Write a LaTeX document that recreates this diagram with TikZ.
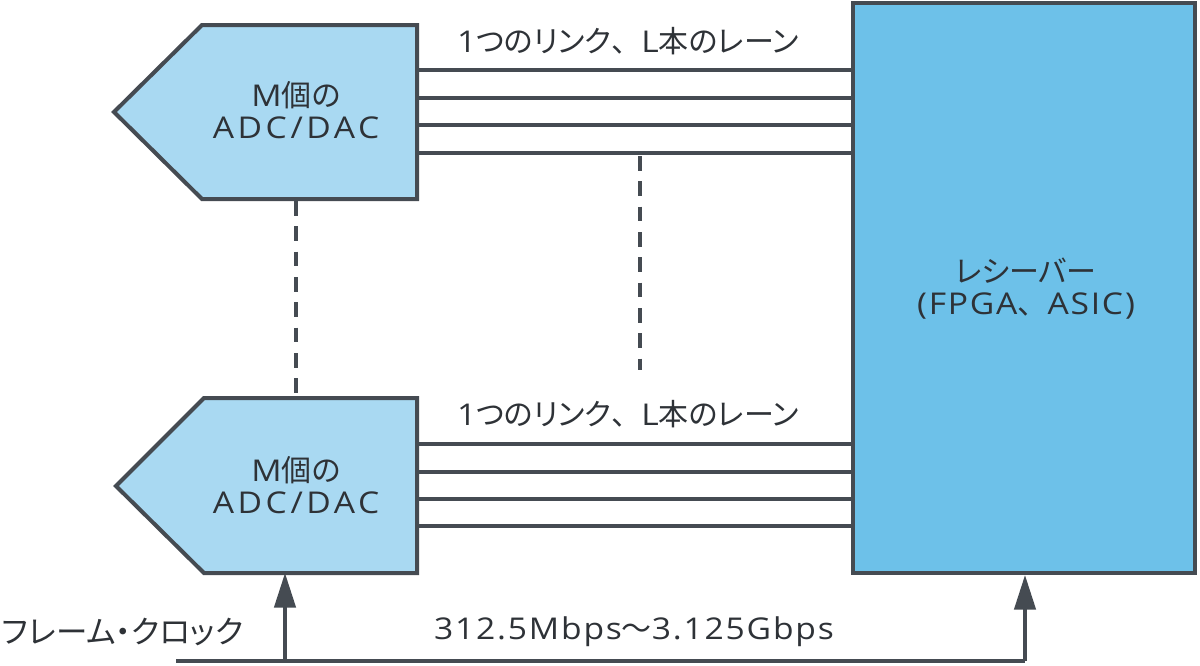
\documentclass[tikz,border=0pt]{standalone}
\usepackage{fontspec}
\setmainfont[RawFeature=+palt]{Noto Sans CJK JP}
\newfontfamily\jpfull{Noto Sans CJK JP}
\newfontfamily\latfont[FakeStretch=1.12,LetterSpace=6]{Open Sans}
\newfontfamily\latwide[FakeStretch=1.12,LetterSpace=12]{Open Sans}
\newcommand\latn[1]{{\latfont #1}}
\newcommand\latw[1]{{\latwide #1}}
\newcommand\jcomma{{\jpfull 、}}
\usetikzlibrary{arrows.meta}
\definecolor{ln}{HTML}{454B52}
\definecolor{tx}{HTML}{2E3237}
\definecolor{adcfill}{HTML}{A9D9F2}
\definecolor{rxfill}{HTML}{6DC1E9}
\begin{document}
\begin{tikzpicture}[x=0.75pt,y=-0.75pt,
  outl/.style={draw=ln,line width=3pt,line join=miter},
  lane/.style={draw=ln,line width=2.3pt},
  dsh/.style={draw=ln,line width=2.3pt,dash pattern=on 11pt off 8pt},
  conn/.style={draw=ln,line width=2.6pt},
  uparrow/.style={conn,-{Triangle[length=26pt,width=16pt]}},
  lbl/.style={font=\fontsize{22.5pt}{24pt}\selectfont,text=tx,inner sep=0pt,align=center},
  rxbox/.style={outl,fill=rxfill,minimum width=342*0.75pt,minimum height=570*0.75pt,inner sep=0pt}
]
\useasboundingbox (0,0) rectangle (1200,665);

% receiver
\node[rxbox] (rx) at (1024,288) {};
\node[lbl] (rxt) at (1026,289) {レシーバー\\\latn{(FPGA}\jcomma\latn{ASIC)}};

% top ADC/DAC
\coordinate (a1tl) at (202,25);
\coordinate (a1tr) at (417,25);
\coordinate (a1br) at (417,199);
\coordinate (a1bl) at (202,199);
\coordinate (a1tip) at (114,112);
\draw[outl,fill=adcfill] (a1tl) -- (a1tr) -- (a1br) -- (a1bl) -- (a1tip) -- cycle;
\node[lbl] (a1t) at (296,110) {\latn{M}個の\\\latw{ADC/DAC}};

% bottom ADC/DAC
\coordinate (a2tl) at (204,398);
\coordinate (a2tr) at (417,398);
\coordinate (a2br) at (417,573);
\coordinate (a2bl) at (204,573);
\coordinate (a2tip) at (116,486);
\draw[outl,fill=adcfill] (a2tl) -- (a2tr) -- (a2br) -- (a2bl) -- (a2tip) -- cycle;
\node[lbl] (a2t) at (296,485) {\latn{M}個の\\\latw{ADC/DAC}};

% lanes top
\foreach \yy [count=\i] in {70,98,125,153} {
  \coordinate (t\i) at (418,\yy);
  \draw[lane] (t\i) -- (rx.west |- t\i);
}
% lanes bottom
\foreach \yy [count=\i] in {444,472,499,526} {
  \coordinate (b\i) at (418,\yy);
  \draw[lane] (b\i) -- (rx.west |- b\i);
}

\node[lbl] (lk1) at (628,41) {\latn{1}つのリンク\jcomma\latn{L}本のレーン};
\node[lbl] (lk2) at (628,414) {\latn{1}つのリンク\jcomma\latn{L}本のレーン};

% dashed
\coordinate (d1a) at (296,201);
\coordinate (d1b) at (296,397);
\draw[dsh] (d1a) -- (d1b);
\coordinate (d2a) at (640,156);
\coordinate (d2b) at (640,370);
\draw[dsh] (d2a) -- (d2b);

% clock
\coordinate (cl) at (176,661);
\coordinate (c1) at (285,661);
\coordinate (c2) at (1025,661);
\draw[conn] (cl) -- (c2);
\draw[uparrow] (c1) -- (c1 |- a2bl);
\draw[uparrow] (c2) -- (rx.south -| c2);

\node[lbl,anchor=west,font=\fontsize{23.6pt}{24pt}\selectfont] (fc) at (2,632) {フレーム・クロック};
\node[lbl] (rate) at (634,632) {\latn{312.5Mbps}～\latn{3.125Gbps}};
\end{tikzpicture}
\end{document}
